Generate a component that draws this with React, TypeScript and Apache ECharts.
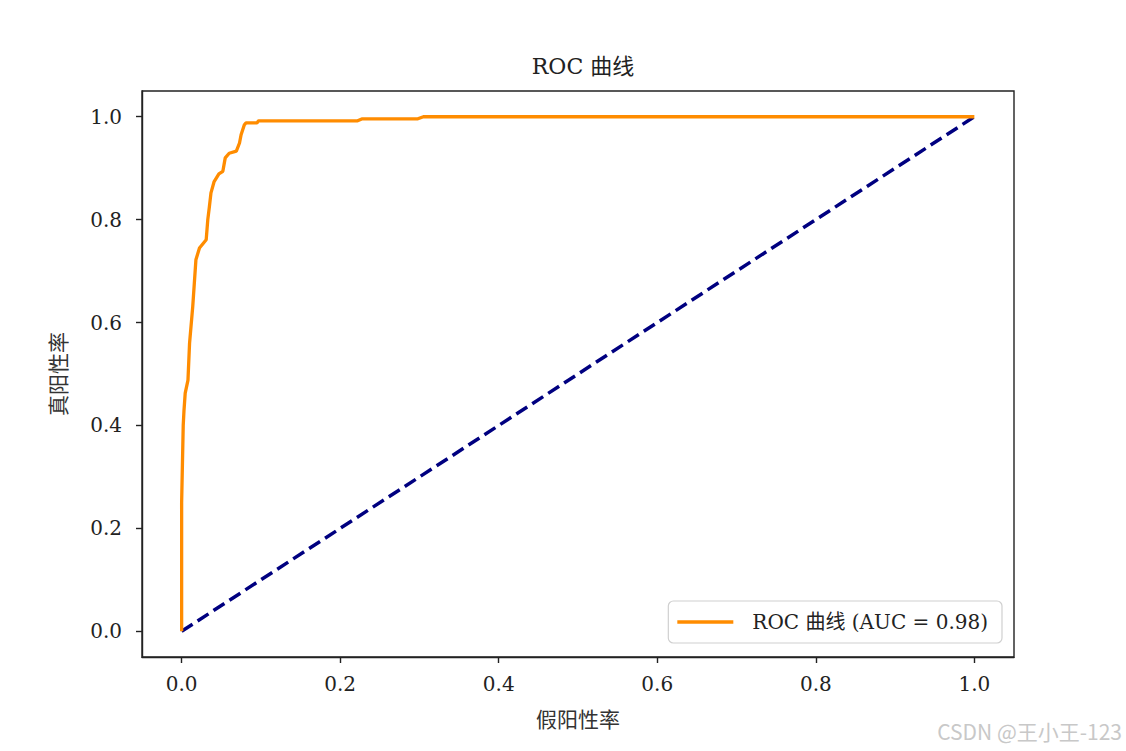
import React, { useEffect, useRef } from "react";
import * as echarts from "echarts";

const fprValues = [0, 0, 0.002, 0.003, 0.0045, 0.008, 0.010, 0.014, 0.018, 0.0225, 0.031, 0.033, 0.035, 0.037, 0.041, 0.047, 0.052, 0.055, 0.060, 0.069, 0.073, 0.075, 0.079, 0.081, 0.095, 0.097, 0.222, 0.228, 0.298, 0.305, 1.0];
const tprValues = [0, 0.25, 0.40, 0.43, 0.463, 0.488, 0.56, 0.631, 0.722, 0.745, 0.761, 0.80, 0.825, 0.852, 0.874, 0.889, 0.894, 0.920, 0.929, 0.933, 0.949, 0.965, 0.984, 0.988, 0.988, 0.992, 0.992, 0.996, 0.996, 1.0, 1.0];
const chanceX = [0, 1];
const chanceY = [0, 1];
const tickValues = [0, 0.2, 0.4, 0.6, 0.8, 1.0];
const titleText = "ROC 曲线";
const xName = "假阳性率";
const yName = "真阳性率";
const rocLabel = "ROC 曲线 (AUC = 0.98)";
const watermark = "CSDN @王小王-123";

const FONT = "'DejaVu Serif', 'Noto Sans CJK SC', serif";

export default function App() {
  const ref = useRef<HTMLDivElement>(null);
  useEffect(() => {
    if (!ref.current) return;
    const chart = echarts.init(ref.current, null, { renderer: "svg" });
    const rocData = fprValues.map((x, i) => [x, tprValues[i]]);
    const chanceData = chanceX.map((x, i) => [x, chanceY[i]]);
    const axisCommon = {
      type: "value" as const,
      min: -0.05,
      max: 1.05,
      splitLine: { show: false },
      axisLine: { show: true, onZero: false, lineStyle: { color: "#222", width: 1.4 } },
      axisTick: { show: true, inside: false, length: 6, customValues: tickValues, lineStyle: { color: "#222", width: 1.4 } },
      axisLabel: {
        customValues: tickValues,
        formatter: (v: number) => v.toFixed(1),
        color: "#222",
        fontFamily: FONT,
        fontSize: 20,
        margin: 17,
      },
      nameLocation: "middle" as const,
      nameTextStyle: { color: "#333", fontFamily: FONT, fontSize: 21 },
    };
    chart.setOption({
      animation: false,
      backgroundColor: "#fff",
      title: {
        text: titleText,
        left: 578,
        textAlign: "center",
        top: 50,
        textStyle: { fontFamily: FONT, fontSize: 22, fontWeight: "normal", color: "#222" },
      },
      grid: {
        left: 142,
        right: 112,
        top: 91,
        bottom: 94,
        show: true,
        borderColor: "#222",
        borderWidth: 1.4,
        backgroundColor: "transparent",
      },
      xAxis: { ...axisCommon, name: xName, nameGap: 52 },
      yAxis: { ...axisCommon, name: yName, nameGap: 73, axisLabel: { ...axisCommon.axisLabel, margin: 20 } },
      legend: {
        data: [rocLabel],
        right: 124,
        bottom: 108,
        orient: "vertical",
        icon: "rect",
        itemWidth: 56,
        itemHeight: 3.5,
        itemGap: 10,
        padding: [11, 14, 11, 9],
        backgroundColor: "rgba(255,255,255,0.8)",
        borderColor: "#d0d0d0",
        borderWidth: 1.2,
        borderRadius: 5,
        textStyle: { fontFamily: FONT, fontSize: 20, color: "#222", padding: [0, 0, 0, 14] },
      },
      series: [
        {
          name: rocLabel,
          type: "line",
          data: rocData,
          showSymbol: false,
          symbol: "none",
          lineStyle: { color: "#ff8c00", width: 3.3 },
          itemStyle: { color: "#ff8c00" },
          z: 3,
        },
        {
          name: "chance",
          type: "line",
          data: chanceData,
          showSymbol: false,
          symbol: "none",
          lineStyle: { color: "#000080", width: 3.5, type: [13, 6] },
          itemStyle: { color: "#000080" },
          z: 2,
        },
      ],
      graphic: [
        {
          type: "text",
          right: 4,
          top: 720,
          style: {
            text: watermark,
            fontFamily: "'Noto Sans CJK SC', 'Noto Sans', sans-serif",
            fontSize: 21,
            fill: "#c8c8c8",
          },
        },
      ],
    });
    return () => chart.dispose();
  }, []);
  return (
    <div
      ref={ref}
      style={{ position: "fixed", left: 0, top: 0, width: 1126, height: 751, background: "#fff" }}
    />
  );
}
